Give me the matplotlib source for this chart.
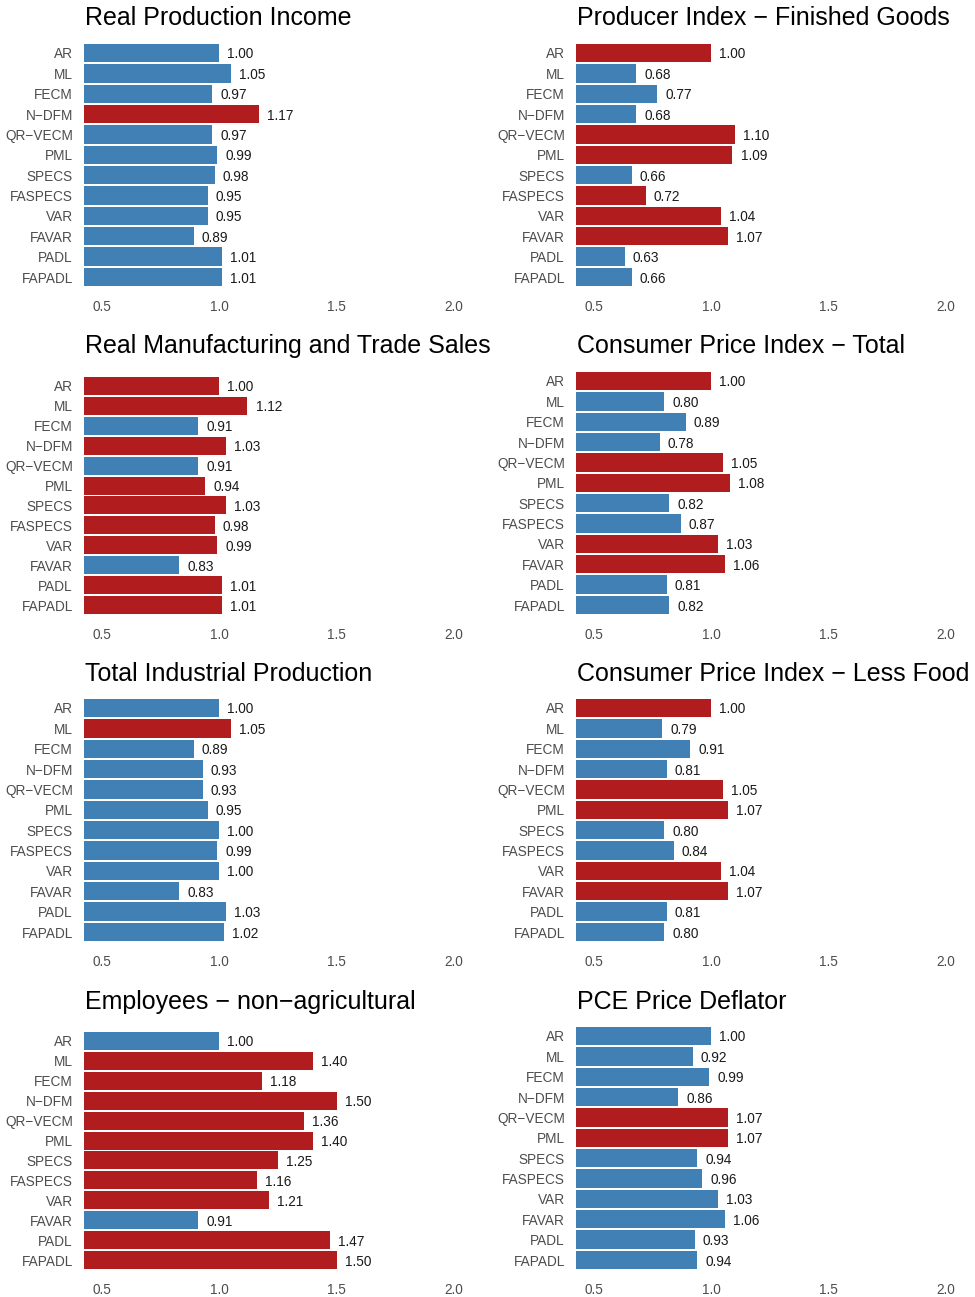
import matplotlib
matplotlib.use("Agg")
import matplotlib.pyplot as plt

plt.rcParams["font.family"] = ["Liberation Sans", "DejaVu Sans"]

RED = "#B11C1E"
BLUE = "#4180B4"

models = ["AR", "ML", "FECM", "N−DFM", "QR−VECM", "PML", "SPECS",
          "FASPECS", "VAR", "FAVAR", "PADL", "FAPADL"]

# relative errors per series, and which models get highlighted (1 = red)
rpi = [1.00, 1.05, 0.97, 1.17, 0.97, 0.99, 0.98, 0.95, 0.95, 0.89, 1.01, 1.01]
rpi_hl = [0, 0, 0, 1, 0, 0, 0, 0, 0, 0, 0, 0]

ppi = [1.00, 0.68, 0.77, 0.68, 1.10, 1.09, 0.66, 0.72, 1.04, 1.07, 0.63, 0.66]
ppi_hl = [1, 0, 0, 0, 1, 1, 0, 1, 1, 1, 0, 0]

mts = [1.00, 1.12, 0.91, 1.03, 0.91, 0.94, 1.03, 0.98, 0.99, 0.83, 1.01, 1.01]
mts_hl = [1, 1, 0, 1, 0, 1, 1, 1, 1, 0, 1, 1]

cpi = [1.00, 0.80, 0.89, 0.78, 1.05, 1.08, 0.82, 0.87, 1.03, 1.06, 0.81, 0.82]
cpi_hl = [1, 0, 0, 0, 1, 1, 0, 0, 1, 1, 0, 0]

ip = [1.00, 1.05, 0.89, 0.93, 0.93, 0.95, 1.00, 0.99, 1.00, 0.83, 1.03, 1.02]
ip_hl = [0, 1, 0, 0, 0, 0, 0, 0, 0, 0, 0, 0]

cpi_lf = [1.00, 0.79, 0.91, 0.81, 1.05, 1.07, 0.80, 0.84, 1.04, 1.07, 0.81, 0.80]
cpi_lf_hl = [1, 0, 0, 0, 1, 1, 0, 0, 1, 1, 0, 0]

emp = [1.00, 1.40, 1.18, 1.50, 1.36, 1.40, 1.25, 1.16, 1.21, 0.91, 1.47, 1.50]
emp_hl = [0, 1, 1, 1, 1, 1, 1, 1, 1, 0, 1, 1]

pce = [1.00, 0.92, 0.99, 0.86, 1.07, 1.07, 0.94, 0.96, 1.03, 1.06, 0.93, 0.94]
pce_hl = [0, 0, 0, 0, 1, 1, 0, 0, 0, 0, 0, 0]

titles = ["Real Production Income", "Producer Index − Finished Goods",
          "Real Manufacturing and Trade Sales", "Consumer Price Index − Total",
          "Total Industrial Production", "Consumer Price Index − Less Food",
          "Employees − non−agricultural", "PCE Price Deflator"]
values = [rpi, ppi, mts, cpi, ip, cpi_lf, emp, pce]
highlights = [rpi_hl, ppi_hl, mts_hl, cpi_hl, ip_hl, cpi_lf_hl, emp_hl, pce_hl]
ticks = [0.5, 1.0, 1.5, 2.0]

W, H = 975, 1297
fig = plt.figure(figsize=(W / 100, H / 100), dpi=100)

# panel boxes in pixels: (left, top, right, bottom)
col_x = [(84, 468), (576, 960)]
row_y = [[(42.8, 287.2), (42.8, 287.2)],
         [(376.0, 615.0), (370.8, 615.2)],
         [(697.8, 942.2), (697.8, 942.2)],
         [(1031.0, 1270.0), (1025.8, 1270.2)]]
title_base = [25, 353, 681, 1009]

for i in range(8):
    r, c = divmod(i, 2)
    x0, x1 = col_x[c]
    top, bot = row_y[r][c]
    ax = fig.add_axes([x0 / W, 1 - bot / H, (x1 - x0) / W, (bot - top) / H])
    vals = values[i]
    cols = [RED if h else BLUE for h in highlights[i]]
    ax.barh(range(len(models)), vals, height=0.9, color=cols, left=0)
    for y, v in enumerate(vals):
        ax.annotate(f"{v:.2f}", (v, y), xytext=(5.8, 0), textcoords="offset points",
                    va="center_baseline", ha="left", fontsize=9.8, color="#1A1A1A")
    ax.set_xlim(0.4233, 0.4233 + (x1 - x0) / 234.67)
    ax.set_ylim(len(models) - 0.5, -0.5)
    ax.set_yticks(range(len(models)))
    ax.set_yticklabels(models)
    ax.set_xticks(ticks)
    ax.set_xticklabels([f"{t:.1f}" for t in ticks])
    ax.tick_params(axis="both", length=0, labelsize=9.8, labelcolor="#4D4D4D")
    ax.tick_params(axis="y", pad=8)
    ax.tick_params(axis="x", pad=9.5)
    for s in ax.spines.values():
        s.set_visible(False)
    fig.text((x0 + 1) / W, 1 - title_base[r] / H, titles[i], fontsize=18,
             ha="left", va="baseline", color="black")

fig.savefig("out.png", dpi=100)
